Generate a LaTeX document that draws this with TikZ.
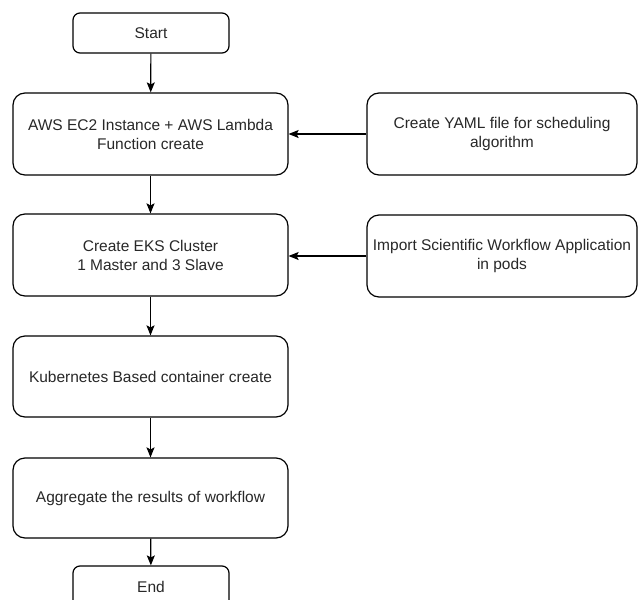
\documentclass[tikz,border=0pt]{standalone}
\usepackage{fontspec}
\setmainfont{Liberation Sans}
\usepackage{tikz}
\usetikzlibrary{arrows.meta}
\definecolor{boxtext}{RGB}{40,40,40}

\begin{document}
\begin{tikzpicture} [
    x=1pt, y=-1pt,
    every node/.style = {font=\fontsize{15.5}{19}\selectfont, text=boxtext, align=center},
    stepbox/.style = {draw, rounded corners=12pt, minimum width=275pt, minimum height=82pt, line width=1.2pt},
    endbox/.style = {draw, rounded corners=7pt, minimum width=156pt, minimum height=40pt, line width=1.2pt},
    flow/.style = {-{Stealth[length=10pt,width=8pt,inset=2pt]}, line width=1.2pt}
]
    \clip (0,0) rectangle (638,600);
    \fill[white] (0,0) rectangle (638,600);

    \node [endbox] (start) at (151,33) {Start};
    \node [stepbox] (ec2) at (150.5,134) {AWS EC2 Instance + AWS Lambda\\Function create};
    \node [stepbox, minimum width=270pt] (yaml) at (502,134) {Create YAML file for scheduling\\algorithm};
    \node [stepbox] (eks) at (150.5,255) {Create EKS Cluster\\1 Master and 3 Slave};
    \node [stepbox, minimum width=270pt] (import) at (502,256) {Import Scientific Workflow Application\\in pods};
    \node [stepbox, minimum height=81pt] (k8s) at (150.5,376.5) {Kubernetes Based container create};
    \node [stepbox, minimum height=80pt] (agg) at (150.5,498) {Aggregate the results of workflow};
    \node [endbox, minimum height=41pt] (end) at (151,586.5) {End};

    % main flow
    \draw [flow] (start) -- (ec2);
    \draw [flow] (ec2) -- (eks);
    \draw [flow] (eks) -- (k8s);
    \draw [flow] (k8s) -- (agg);
    \draw [flow] (agg) -- (end);

    % side inputs
    \draw [flow] (yaml) -- (ec2);
    \draw [flow] (import.west) -- (eks.east |- import.west);
\end{tikzpicture}
\end{document}
